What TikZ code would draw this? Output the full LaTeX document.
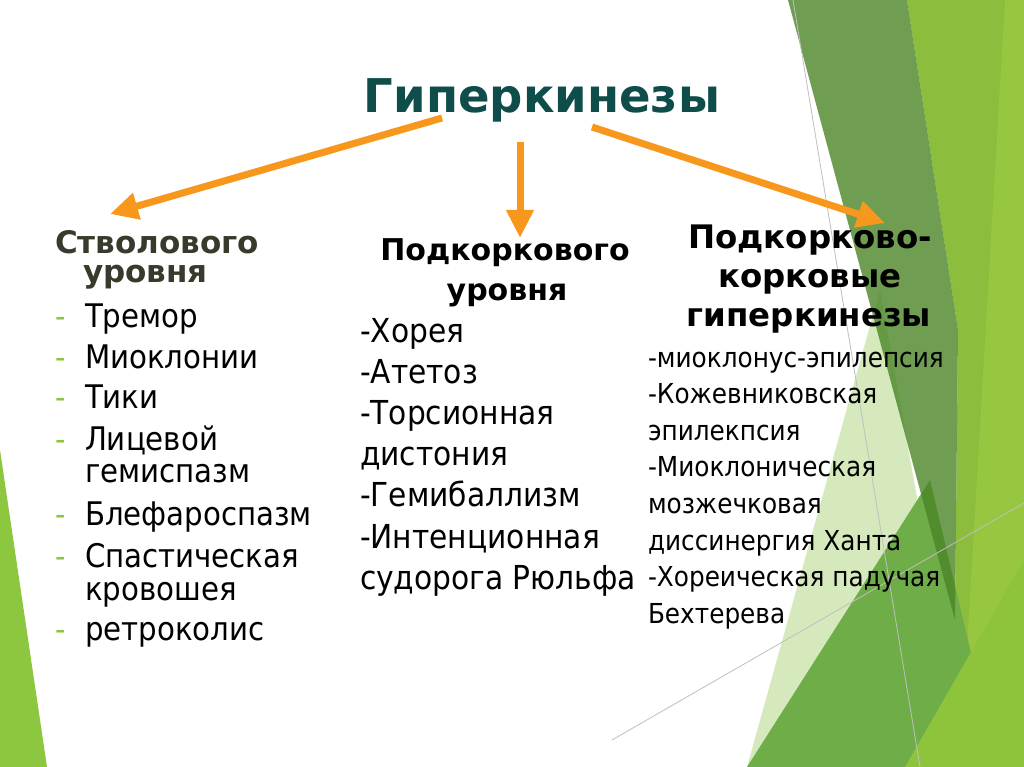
\documentclass[tikz,border=0pt]{standalone}
\usepackage{fontspec}
\setmainfont{DejaVu Sans}[FakeStretch=0.9, BoldFeatures={FakeStretch=1.0}]
\usetikzlibrary{arrows.meta}
\definecolor{titlecol}{HTML}{0F4D4A}
\definecolor{headL}{HTML}{383A2C}
\definecolor{arrcol}{HTML}{F7981D}
\definecolor{dashgreen}{HTML}{8CC63F}
\definecolor{gbase}{HTML}{8CBD3C}
\definecolor{gstrip}{HTML}{97C740}
\definecolor{gdark}{RGB}{75,134,39}
\definecolor{gpale}{HTML}{D6E9BC}
\definecolor{gmid}{HTML}{6FAD48}
\definecolor{gbright}{HTML}{8DC43C}
\definecolor{gleft}{HTML}{8DC63F}
\begin{document}
\begin{tikzpicture}[x=1pt,y=-1pt,
  every node/.style={inner sep=0pt, outer sep=0pt},
  ttl/.style={font=\fontsize{46.5}{56}\selectfont\bfseries, text=titlecol, anchor=base},
  headl/.style={font=\fontsize{31}{36}\selectfont\bfseries, text=headL, anchor=base west},
  headc/.style={font=\fontsize{30}{36}\selectfont\bfseries, anchor=base},
  headr/.style={font=\fontsize{32.4}{38}\selectfont\bfseries, anchor=base},
  iteml/.style={font=\fontsize{32.5}{38}\selectfont, anchor=base west},
  itemm/.style={font=\fontsize{33}{40}\selectfont, anchor=base west},
  itemr/.style={font=\fontsize{27.5}{33}\selectfont, anchor=base west},
  dsh/.style={font=\fontsize{32}{36}\selectfont, text=dashgreen, anchor=base west},
  arr/.style={draw=arrcol, line width=7pt, -{Triangle[length=28pt,width=26pt]}},
  thin/.style={draw=black!25, line width=0.8pt}
]
\useasboundingbox (0,0) rectangle (1024,767);
\fill[white] (0,0) rectangle (1024,767);
% background facets
\fill[gbase] (907,0) -- (1024,0) -- (1024,767) -- (900,767) -- (955,620) -- (958,330) -- cycle;
\fill[gstrip] (1005,0) -- (1024,0) -- (1024,767) -- (960,767) -- cycle;
\fill[gpale] (747,767) -- (880,290) -- (965,767) -- cycle;
\fill[gmid] (747,767) -- (930,480) -- (998,767) -- cycle;
\fill[gbright] (905,767) -- (1024,560) -- (1024,767) -- cycle;
\fill[gdark, fill opacity=0.8] (788,0) -- (907,0) -- (958,330) -- (955,620) -- cycle;
\draw[thin] (793,0) -- (920,767);
\draw[thin] (612,740) -- (1024,503);
\fill[gleft] (0,450) -- (47,767) -- (0,767) -- cycle;

% title
\node[ttl] (title) at (542,113) {Гиперкинезы};

% left column
\node[headl] (lh1) at (55,253) {Стволового};
\node[headl] (lh2) at (83,282) {уровня};
\node[dsh] (d1) at (55,327) {-}; \node[iteml] (l1) at (85,327) {Тремор};
\node[dsh] (d2) at (55,368) {-}; \node[iteml] (l2) at (85,368) {Миоклонии};
\node[dsh] (d3) at (55,408) {-}; \node[iteml] (l3) at (85,408) {Тики};
\node[dsh] (d4) at (55,450) {-}; \node[iteml] (l4) at (85,450) {Лицевой};
\node[iteml] (l4b) at (85,482) {гемиспазм};
\node[dsh] (d5) at (55,525) {-}; \node[iteml] (l5) at (85,525) {Блефароспазм};
\node[dsh] (d6) at (55,567) {-}; \node[iteml] (l6) at (85,567) {Спастическая};
\node[iteml] (l6b) at (85,600) {кровошея};
\node[dsh] (d7) at (55,640) {-}; \node[iteml] (l7) at (85,640) {ретроколис};

% middle column
\node[headc] (mh1) at (505,260) {Подкоркового};
\node[headc] (mh2) at (507,300) {уровня};
\node[itemm] (m1) at (360,342) {-Хорея};
\node[itemm] (m2) at (360,383.2) {-Атетоз};
\node[itemm] (m3) at (360,424.4) {-Торсионная};
\node[itemm] (m4) at (360,465.6) {дистония};
\node[itemm] (m5) at (360,506.8) {-Гемибаллизм};
\node[itemm] (m6) at (360,548) {-Интенционная};
\node[itemm] (m7) at (360,589.2) {судорога Рюльфа};

% right column
\node[headr] (rh1) at (810,248) {Подкорково-};
\node[headr] (rh2) at (810,287) {корковые};
\node[headr] (rh3) at (809,326) {гиперкинезы};
\node[itemr] (r1) at (648,367) {-миоклонус-эпилепсия};
\node[itemr] (r2) at (648,403.6) {-Кожевниковская};
\node[itemr] (r3) at (648,440.2) {эпилекпсия};
\node[itemr] (r4) at (648,476.8) {-Миоклоническая};
\node[itemr] (r5) at (648,513.4) {мозжечковая};
\node[itemr] (r6) at (648,550) {диссинергия Ханта};
\node[itemr] (r7) at (648,586.6) {-Хореическая падучая};
\node[itemr] (r8) at (648,623.2) {Бехтерева};

% arrows
\coordinate (a1s) at (442,118);
\coordinate (a1e) at (110,214);
\coordinate (a2s) at (520,142);
\coordinate (a2e) at (520,238);
\coordinate (a3s) at (592,127);
\coordinate (a3e) at (885,223);
\draw[arr] (a1s) -- (a1e);
\draw[arr] (a2s) -- (a2e);
\draw[arr] (a3s) -- (a3e);
\end{tikzpicture}
\end{document}
